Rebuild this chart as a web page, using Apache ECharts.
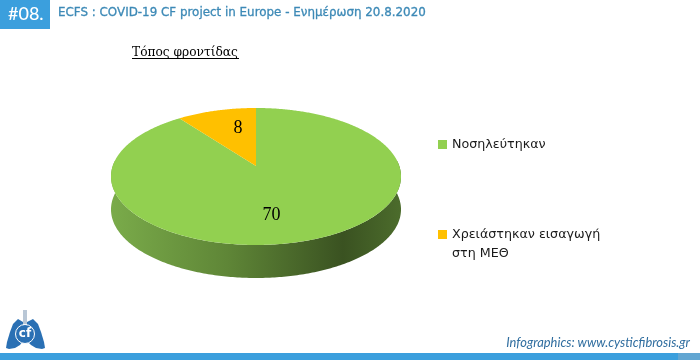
<!DOCTYPE html>
<html><head><meta charset="utf-8">
<style>html,body{margin:0;padding:0;background:#fff}#c{width:700px;height:360px}</style>
<script src="https://cdn.jsdelivr.net/npm/echarts@6/dist/echarts.min.js"></script>
</head><body><div id="c"></div>
<script>
const categories = ['Νοσηλεύτηκαν', 'Χρειάστηκαν εισαγωγή στη ΜΕΘ'];
const legendLabels = ['Νοσηλεύτηκαν', '\nΧρειάστηκαν εισαγωγή\nστη ΜΕΘ'];
const values = [70, 8];
const sliceColors = ['#92d050', '#ffc000'];
const labelNudge = [[-17, 4], [9, 0]];
const legendTops = [135, 206];

const CX = 256, CY = 166, A = 66.9, B = 143.3, K = 0.153, DEPTH = 33, R_LABEL = 0.65;
const total = values.reduce((a, b) => a + b, 0);

function project(theta, r) {
  const x = r * Math.sin(theta), y = r * Math.cos(theta), d = 1 + K * y;
  return [CX + B * x / d, CY - A * y / d];
}
function sliceRange(i) {
  let s = 0;
  for (let j = 0; j < i; j++) s += values[j];
  return [s / total * 2 * Math.PI, (s + values[i]) / total * 2 * Math.PI];
}
function renderSlice(i) {
  return function () {
    const [a0, a1] = sliceRange(i);
    const pts = [[CX, CY]];
    const n = Math.max(2, Math.ceil((a1 - a0) / 0.01));
    for (let k = 0; k <= n; k++) pts.push(project(a0 + (a1 - a0) * k / n, 1));
    const p = project((a0 + a1) / 2, R_LABEL);
    return {
      type: 'group',
      children: [
        { type: 'polygon', shape: { points: pts }, style: { fill: sliceColors[i] } },
        { type: 'text', z2: 10, style: {
            text: String(values[i]), x: p[0] + labelNudge[i][0], y: p[1] + labelNudge[i][1],
            fill: '#000', font: '18px "Liberation Serif"', align: 'center', verticalAlign: 'middle' } }
      ]
    };
  };
}
function renderWall() {
  const upper = [], lower = [];
  const n = 240;
  for (let k = 0; k <= n; k++) {
    const t = Math.PI / 2 - 0.08 + (Math.PI + 0.16) * k / n;
    const q = project(t, 1);
    upper.push(q);
    lower.unshift([q[0], q[1] + DEPTH]);
  }
  return {
    type: 'polygon',
    shape: { points: upper.concat(lower) },
    style: { fill: new echarts.graphic.LinearGradient(1, 0, 0, 0, [
      { offset: 0, color: '#4c6c2c' },
      { offset: 0.2, color: '#3a5221' },
      { offset: 0.6, color: '#5f8637' },
      { offset: 1, color: '#7aab4a' }
    ]) }
  };
}

const series = [{
  type: 'custom', name: 'wall', coordinateSystem: 'none', silent: true, z: 1,
  data: [total], renderItem: renderWall
}].concat(categories.map((name, i) => ({
  type: 'custom', name, coordinateSystem: 'none', z: 2 + i,
  itemStyle: { color: sliceColors[i] },
  data: [values[i]], renderItem: renderSlice(i)
})));

const lobeL = [[23,322],[18,319],[13,324],[10,332],[7,342],[6,348],[9,349],[15,348],[20,345],[23,341]];
const lobeR = [[27,322],[33,319],[38,324],[41,332],[44,342],[45,348],[42,349],[36,348],[31,345],[27,341]];

const chart = echarts.init(document.getElementById('c'), null, { renderer: 'canvas' });
chart.setOption({
  animation: false,
  backgroundColor: '#fff',
  title: [
    { text: '#08.', left: 8, top: 5, padding: 0, textStyle: { color: '#fff', fontFamily: 'Lato', fontSize: 18, fontWeight: 500 } },
    { text: 'ECFS : COVID-19 CF project in Europe - Ενημέρωση 20.8.2020', left: 58, top: 7, padding: 0, textStyle: { color: '#3c89b6', fontFamily: 'DejaVu Sans', fontSize: 11.9, fontWeight: 500, textBorderColor: '#3c89b6', textBorderWidth: 0.3 } },
    { text: 'Τόπος φροντίδας', left: 132, top: 47, padding: 0, textStyle: { color: '#000', fontFamily: 'DejaVu Serif', fontSize: 12.2, fontWeight: 400 } },
    { text: 'Infographics: www.cysticfibrosis.gr', right: 10, top: 336, padding: 0, textStyle: { color: '#2f6d9f', fontFamily: 'Lato', fontStyle: 'italic', fontSize: 12.9, fontWeight: 400 } }
  ],
  legend: categories.map((name, i) => ({
    data: [name], left: 438, top: legendTops[i], orient: 'vertical', padding: 0,
    icon: 'rect', itemWidth: 9, itemHeight: 9, itemGap: 0, selectedMode: false,
    formatter: () => legendLabels[i],
    textStyle: { color: '#1a1a1a', fontFamily: 'DejaVu Sans', fontSize: 12.7, lineHeight: 19 }
  })),
  series,
  graphic: [
    { type: 'rect', shape: { x: 0, y: 0, width: 50, height: 29 }, style: { fill: '#3b9fdd' }, silent: true },
    { type: 'rect', shape: { x: 0, y: 353, width: 678, height: 7 }, style: { fill: '#3b9fdd' }, silent: true },
    { type: 'rect', shape: { x: 678, y: 353, width: 22, height: 7 }, style: { fill: '#62a6d2' }, silent: true },
    { type: 'rect', shape: { x: 132, y: 58, width: 107, height: 1 }, style: { fill: '#000' }, silent: true },
    { type: 'rect', shape: { x: 23, y: 310, width: 4, height: 14 }, style: { fill: '#b9c7d6' }, silent: true },
    { type: 'polygon', shape: { points: lobeL }, style: { fill: '#2a70b4' }, silent: true },
    { type: 'polygon', shape: { points: lobeR }, style: { fill: '#2a70b4' }, silent: true },
    { type: 'circle', shape: { cx: 25, cy: 334, r: 9.5 }, style: { fill: '#2a70b4', stroke: '#fff', lineWidth: 1 }, silent: true, z: 5 },
    { type: 'text', style: { text: 'cf', x: 25, y: 334, fill: '#fff', font: 'bold 12px "DejaVu Sans"', align: 'center', verticalAlign: 'middle' }, silent: true, z: 6 }
  ]
});
</script></body></html>
